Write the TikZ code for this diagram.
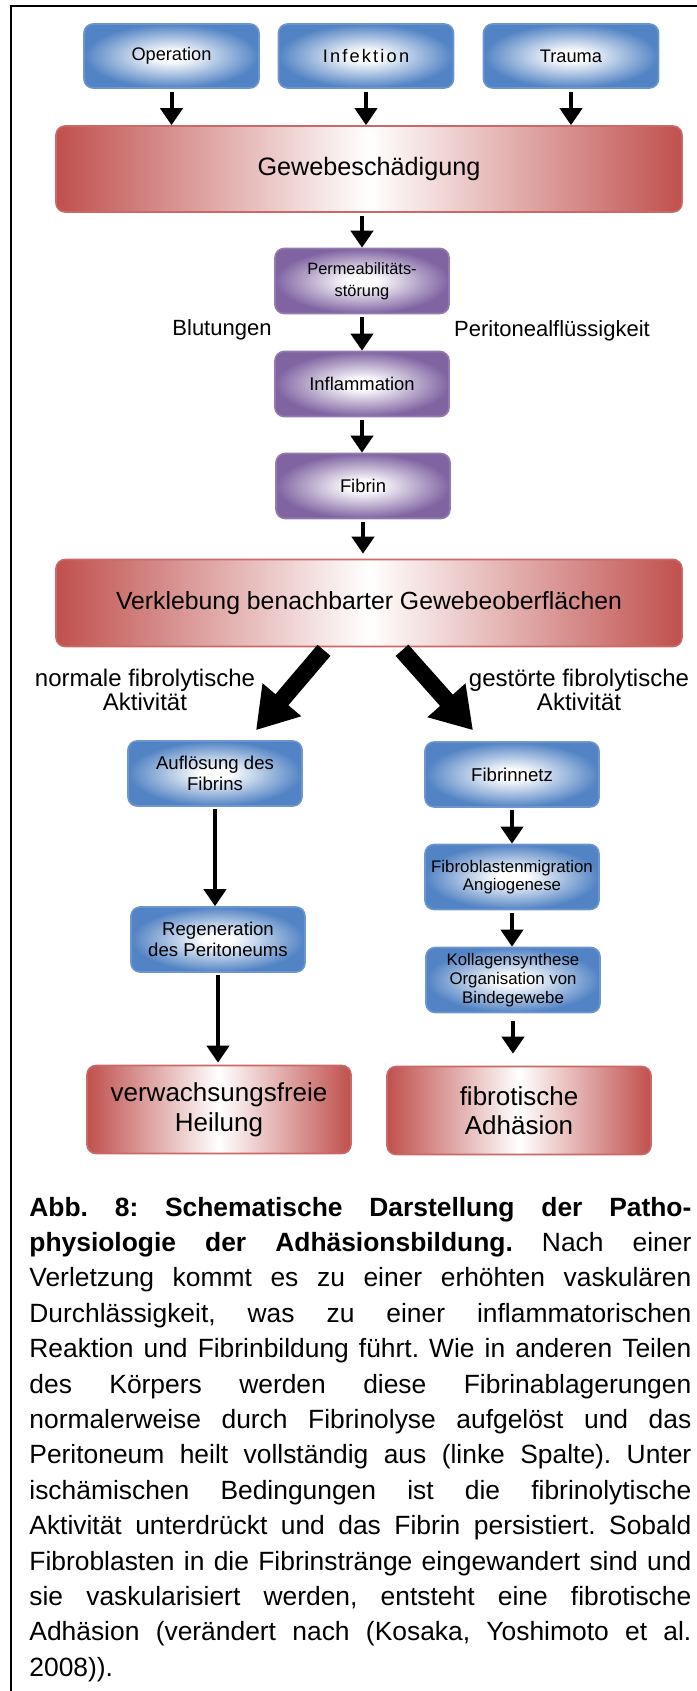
\documentclass[tikz,border=0pt]{standalone}
\usepackage{fontspec}
\setmainfont{Liberation Sans}
\usetikzlibrary{arrows.meta}
\definecolor{bblue}{RGB}{82,131,196}
\definecolor{bpurp}{RGB}{128,100,162}
\definecolor{bred}{RGB}{192,80,77}
\pgfdeclareradialshading{blueshade}{\pgfpoint{0bp}{0bp}}{color(0bp)=(white); color(4bp)=(white); color(25bp)=(bblue); color(50bp)=(bblue)}
\pgfdeclareradialshading{purpshade}{\pgfpoint{0bp}{0bp}}{color(0bp)=(white); color(4bp)=(white); color(25bp)=(bpurp); color(50bp)=(bpurp)}
\pgfdeclarehorizontalshading{redshade}{100bp}{color(0bp)=(bred); color(25bp)=(bred); color(50bp)=(white); color(75bp)=(bred); color(100bp)=(bred)}
\tikzset{
  boxbase/.style={rounded corners=4.5pt, line width=0.8pt, inner sep=0pt, align=center, shade},
  topbox/.style={boxbase, shading=blueshade, draw=bblue!85!white, minimum width=87.5pt, minimum height=32pt, font=\fontsize{9.1pt}{11pt}\selectfont},
  bluebox/.style={boxbase, shading=blueshade, draw=bblue!85!white, minimum width=87pt, minimum height=32.5pt, font=\fontsize{9.3pt}{10.2pt}\selectfont},
  smallblue/.style={bluebox, font=\fontsize{8.4pt}{9.3pt}\selectfont},
  purpbox/.style={boxbase, shading=purpshade, draw=bpurp!85!white, minimum width=87pt, minimum height=32.5pt, font=\fontsize{9.2pt}{10.8pt}\selectfont},
  redbox/.style={boxbase, shading=redshade, draw=bred!85!white, minimum width=313pt, minimum height=43pt, font=\fontsize{12.6pt}{15pt}\selectfont},
  endbox/.style={boxbase, shading=redshade, draw=bred!85!white, minimum width=132pt, minimum height=44pt, font=\fontsize{13pt}{14.8pt}\selectfont},
  lbl/.style={inner sep=0pt, font=\fontsize{11pt}{13pt}\selectfont},
  lbltwo/.style={inner sep=0pt, align=center, font=\fontsize{12pt}{12.4pt}\selectfont},
  arr/.style={line width=2pt, -{Triangle[width=11pt, length=8.5pt]}},
  bigarr/.style={line width=8.5pt, -{Triangle[width=24pt, length=20pt]}}
}
\begin{document}
\begin{tikzpicture}[x=0.5pt,y=-0.5pt]
\useasboundingbox (0,0) rectangle (696,1691);
\draw[line width=1.2pt] (11,1700) -- (11,6) -- (705,6);

\node[topbox] (op) at (171.5,56) {Operation};
\node[topbox, font=\fontsize{9.1pt}{11pt}\selectfont\addfontfeatures{LetterSpace=12}] (inf) at (366,56) {Infektion};
\node[topbox] (tr) at (571,56) {Trauma};
\node[redbox] (gew) at (369,169) {Gewebeschädigung};

\node[purpbox, font=\fontsize{8.2pt}{10.8pt}\selectfont] (perm) at (362,281) {Permeabilitäts-\\störung};
\node[purpbox] (infl) at (362,384) {Inflammation};
\node[purpbox] (fib) at (363,486) {Fibrin};
\node[lbl] (blut) at (222,330) {Blutungen};
\node[lbl] (peri) at (552,331) {Peritonealflüssigkeit};

\node[redbox, minimum height=43.5pt, font=\fontsize{12.4pt}{15pt}\selectfont] (verk) at (369,603) {Verklebung benachbarter Gewebeoberflächen};

\node[lbltwo] (norm) at (145,690) {normale fibrolytische\\Aktivität};
\node[lbltwo] (gest) at (579,690) {gestörte fibrolytische\\Aktivität};

\node[bluebox] (aufl) at (215,773.5) {Auflösung des\\Fibrins};
\node[bluebox] (regen) at (218,939.5) {Regeneration\\des Peritoneums};
\node[endbox] (heil) at (219,1109.5) {verwachsungsfreie\\Heilung};

\node[bluebox] (netz) at (512,774.5) {Fibrinnetz};
\node[smallblue] (migr) at (512,877) {Fibroblastenmigration\\Angiogenese};
\node[smallblue, font=\fontsize{8.4pt}{9.5pt}\selectfont] (koll) at (513,980) {Kollagensynthese\\Organisation von\\Bindegewebe};
\node[endbox] (adh) at (519,1110.5) {fibrotische\\Adhäsion};

\draw[arr, shorten <=1.5pt] (op.south) -- (op.south |- gew.north);
\draw[arr, shorten <=1.5pt] (inf.south) -- (inf.south |- gew.north);
\draw[arr, shorten <=1.5pt] (tr.south) -- (tr.south |- gew.north);
\draw[arr, shorten <=1.5pt] (perm.north |- gew.south) -- (perm.north);
\draw[arr, shorten <=1.5pt] (perm.south) -- (perm.south |- infl.north);
\draw[arr, shorten <=1.5pt] (infl.south) -- (infl.south |- fib.north);
\draw[arr, shorten <=1.5pt, shorten >=2.5pt] (fib.south) -- (fib.south |- verk.north);

\coordinate (L1) at ([xshift=-22.5pt,yshift=-1.5pt]verk.south);
\coordinate (L2) at ([xshift=20.5pt,yshift=5pt]aufl.north);
\coordinate (R1) at ([xshift=16.5pt,yshift=-1.5pt]verk.south);
\coordinate (R2) at ([xshift=-19.5pt,yshift=5.5pt]netz.north);
\draw[bigarr] (L1) -- (L2);
\draw[bigarr] (R1) -- (R2);

\draw[arr, shorten <=1pt] (aufl.south) -- (aufl.south |- regen.north);
\draw[arr, shorten <=1pt, shorten >=1pt] (regen.south) -- (regen.south |- heil.north);
\draw[arr, shorten <=1pt] (netz.south) -- (netz.south |- migr.north);
\draw[arr, shorten <=1.5pt] (migr.south) -- (migr.south |- koll.north);
\draw[arr, shorten <=4pt, shorten >=6pt] (koll.south) -- (koll.south |- adh.north);

\node[anchor=base west, inner sep=0pt] (cap) at (29,1216) {\parbox[t]{331pt}{\fontsize{13.2pt}{17.7pt}\selectfont\frenchspacing
\hbox to 331pt{\bfseries Abb. 8: Schematische Darstellung der Patho-}
\hbox to 331pt{\textbf{physiologie der Adhäsionsbildung.} Nach einer}
\hbox to 331pt{Verletzung kommt es zu einer erhöhten vaskulären}
\hbox to 331pt{Durchlässigkeit, was zu einer inflammatorischen}
\hbox to 331pt{Reaktion und Fibrinbildung führt. Wie in anderen Teilen}
\hbox to 331pt{des Körpers werden diese Fibrinablagerungen}
\hbox to 331pt{normalerweise durch Fibrinolyse aufgelöst und das}
\hbox to 331pt{Peritoneum heilt vollständig aus (linke Spalte). Unter}
\hbox to 331pt{ischämischen Bedingungen ist die fibrinolytische}
\hbox to 331pt{Aktivität unterdrückt und das Fibrin persistiert. Sobald}
\hbox to 331pt{Fibroblasten in die Fibrinstränge eingewandert sind und}
\hbox to 331pt{sie vaskularisiert werden, entsteht eine fibrotische}
\hbox to 331pt{Adhäsion (verändert nach (Kosaka, Yoshimoto et al.}
\hbox{2008)).}}};
\end{tikzpicture}
\end{document}
